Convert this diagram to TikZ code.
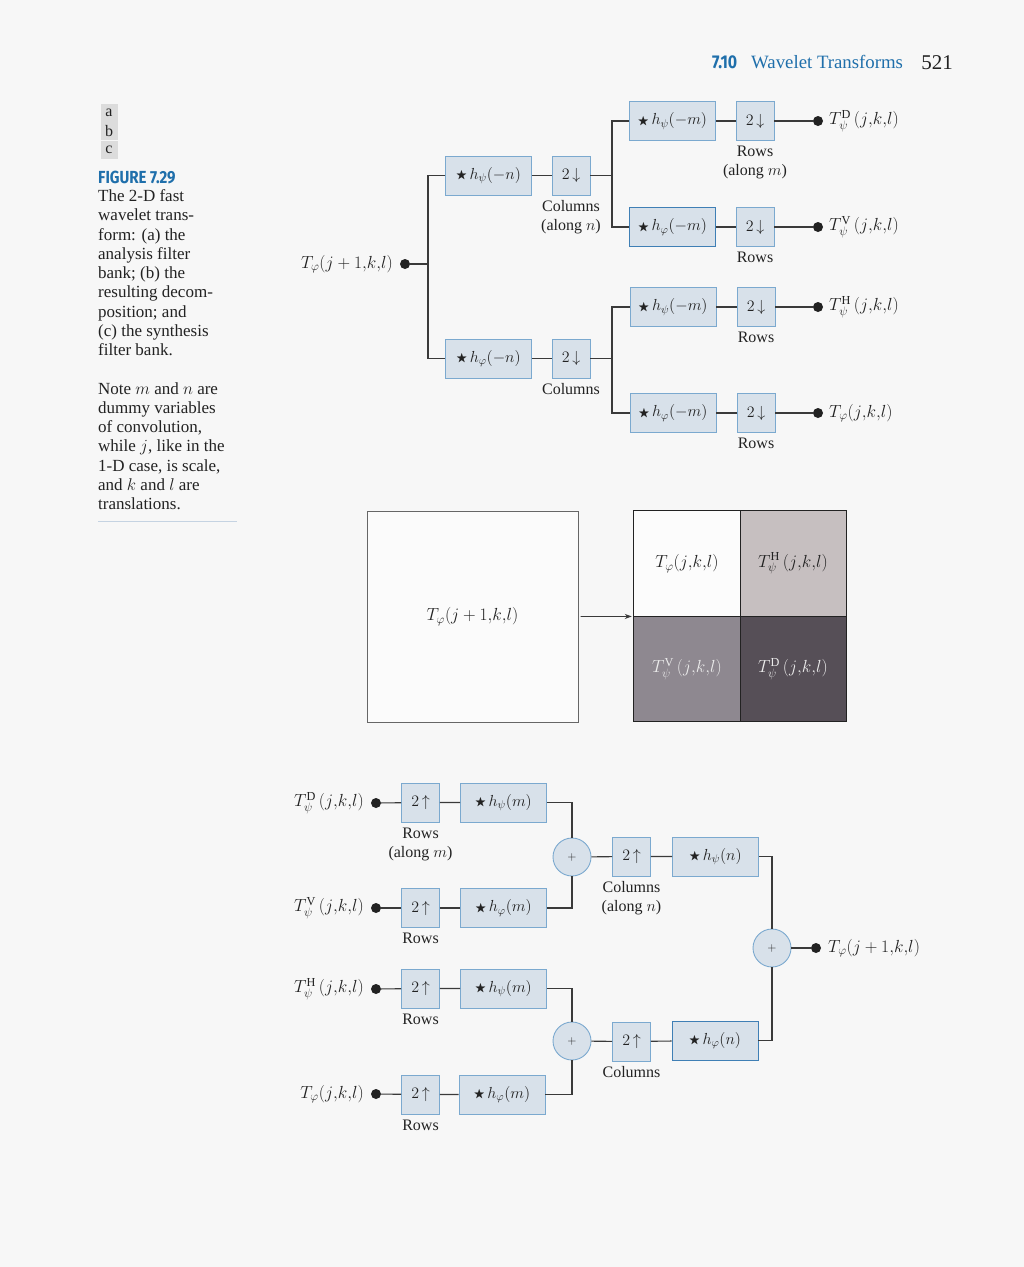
\RequirePackage{fix-cm}
\documentclass[tikz,border=0pt]{standalone}
\usepackage{amssymb}
\usepackage{fontspec}
\setmainfont{Liberation Serif}
\newfontfamily\condsans[FakeStretch=0.86]{Fira Sans}
\usetikzlibrary{arrows.meta,calc}

\definecolor{pagebg}{HTML}{F7F7F7}
\definecolor{ink}{HTML}{222222}
\definecolor{wirecol}{HTML}{3A3A3A}
\definecolor{boxfill}{HTML}{D8E1EA}
\definecolor{boxedge}{HTML}{7BA9CF}
\definecolor{boxedgedk}{HTML}{3F7FB5}
\definecolor{headblue}{HTML}{1F6FAB}
\definecolor{tagfill}{HTML}{DCDCDC}
\definecolor{rulecol}{HTML}{C5D3E2}
\definecolor{quadH}{HTML}{C6BFC0}
\definecolor{quadV}{HTML}{8E8890}
\definecolor{quadD}{HTML}{564F57}
\definecolor{sqedge}{HTML}{666666}

% filter and sampler labels
\newcommand\conv[2]{\raisebox{0.5pt}{\scalebox{0.72}{$\bigstar$}}\,$h_{#1}(#2)$}
\newcommand\down{$2\,{\downarrow}$}
\newcommand\up{$2\,{\uparrow}$}
% coefficient names
\newcommand\args{(j{,}k{,}l)}
\newcommand\coefA{$T_\varphi\args$}
\newcommand\coefB{$T_\varphi(j+1{,}k{,}l)$}
\newcommand\coefD[1]{$T_\psi^{\mathrm{#1}}\,\args$}

\begin{document}
\begin{tikzpicture}[x=1pt,y=-1pt,
  every node/.style={inner sep=0pt, text=ink},
  filt/.style={draw=boxedge, fill=boxfill, line width=0.9pt, minimum width=86pt,
    minimum height=39pt, font=\fontsize{16}{19}\selectfont},
  samp/.style={filt, minimum width=38pt},
  dotnode/.style={circle, fill=ink, minimum size=10pt},
  adder/.style={circle, draw=boxedge, fill=boxfill, line width=0.9pt,
    minimum size=38pt, font=\fontsize{12}{14}\selectfont},
  lbl/.style={font=\fontsize{16}{19}\selectfont, align=center},
  coef/.style={font=\fontsize{17.5}{20}\selectfont},
  sublbl/.style={lbl, anchor=north, yshift=-5pt},
  wire/.style={draw=wirecol, line width=1.1pt},
  tagbox/.style={fill=tagfill, minimum width=17pt, minimum height=18pt,
    font=\fontsize{16}{18}\selectfont},
  quad/.style={minimum width=106pt, minimum height=105.5pt, font=\fontsize{17.5}{20}\selectfont}
]
\useasboundingbox (0,0) rectangle (1024,1267);
\fill[pagebg] (0,0) rectangle (1024,1267);

% ---------- running head ----------
\node[anchor=base west, text=headblue] (secno) at (712,68) {\condsans\bfseries\fontsize{18.5}{20}\selectfont 7.10};
\node[anchor=base west, text=headblue] (sectitle) at (751,68) {\fontsize{18.8}{20}\selectfont Wavelet Transforms};
\node[anchor=base east] (pageno) at (953,69) {\fontsize{21}{24}\selectfont 521};

% ---------- panel tags and caption ----------
\node[tagbox] (taga) at (109,112.5) {a};
\node[tagbox] (tagb) at (109,131) {b};
\node[tagbox] (tagc) at (109,149.5) {c};
\node[anchor=base west, text=headblue] (figno) at (98,183) {\condsans\bfseries\fontsize{17.5}{20}\selectfont FIGURE 7.29};
\node[anchor=north west, align=left, font=\fontsize{17}{19.25}\selectfont] (caption) at (98,189.5) {%
The 2-D fast\\ wavelet trans-\\ form: (a) the\\ analysis filter\\ bank; (b) the\\
resulting decom-\\ position; and\\ (c) the synthesis\\ filter bank.\\[19.25pt]
Note $m$ and $n$ are\\ dummy variables\\ of convolution,\\ while $j$, like in the\\
1-D case, is scale,\\ and $k$ and $l$ are\\ translations.};
\draw[rulecol, line width=0.9pt] (98,521) -- (237,521);

% ---------- (a) analysis filter bank ----------
\node[dotnode] (ain) at (405,264) {};
\node[coef, anchor=east] (ainlbl) at (393,264) {\coefB};
\coordinate (ajoin) at (428,264);

\node[filt] (fcpsi) at (488.5,175.5) {\conv{\psi}{-n}};
\node[samp] (dcpsi) at (571,175.5) {\down};
\node[sublbl] (lcpsi) at (dcpsi.south) {Columns\\(along $n$)};
\node[filt] (fcphi) at (488.5,358.5) {\conv{\varphi}{-n}};
\node[samp] (dcphi) at (571,358.5) {\down};
\node[sublbl] (lcphi) at (dcphi.south) {Columns};
\coordinate (asplitA) at (612,175.5);
\coordinate (asplitB) at (612,358.5);

\node[filt] (frD) at (672.5,121) {\conv{\psi}{-m}};
\node[samp] (drD) at (755,121) {\down};
\node[sublbl] (lrD) at (drD.south) {Rows\\(along $m$)};
\node[dotnode] (oD) at (818,121) {};
\node[coef, anchor=west] (oDlbl) at (829,121) {\coefD{D}};

\node[filt, draw=boxedgedk] (frV) at (672.5,227) {\conv{\varphi}{-m}};
\node[samp] (drV) at (755,227) {\down};
\node[sublbl] (lrV) at (drV.south) {Rows};
\node[dotnode] (oV) at (818,227) {};
\node[coef, anchor=west] (oVlbl) at (829,227) {\coefD{V}};

\node[filt] (frH) at (673,307) {\conv{\psi}{-m}};
\node[samp] (drH) at (756,307) {\down};
\node[sublbl] (lrH) at (drH.south) {Rows};
\node[dotnode] (oH) at (818,307) {};
\node[coef, anchor=west] (oHlbl) at (829,307) {\coefD{H}};

\node[filt] (frA) at (673,413) {\conv{\varphi}{-m}};
\node[samp] (drA) at (756,413) {\down};
\node[sublbl] (lrA) at (drA.south) {Rows};
\node[dotnode] (oA) at (818,413) {};
\node[coef, anchor=west] (oAlbl) at (829,413) {\coefA};

\draw[wire] (ain) -- (ajoin);
\draw[wire] (fcpsi.west) -| (ajoin) |- (fcphi.west);
\draw[wire] (fcpsi) -- (dcpsi);
\draw[wire] (fcphi) -- (dcphi);
\draw[wire] (dcpsi.east) -- (asplitA);
\draw[wire] (dcphi.east) -- (asplitB);
\draw[wire] (frD.west) -| (asplitA) |- (frV.west);
\draw[wire] (frH.west) -| (asplitB) |- (frA.west);
\draw[wire] (frD) -- (drD) -- (oD);
\draw[wire] (frV) -- (drV) -- (oV);
\draw[wire] (frH) -- (drH) -- (oH);
\draw[wire] (frA) -- (drA) -- (oA);

% ---------- (b) resulting decomposition ----------
\node[draw=sqedge, line width=1pt, fill=pagebg!50!white, minimum size=211pt, font=\fontsize{17.5}{20}\selectfont] (srcsq) at (472.5,616.5) {\raisebox{4pt}{\coefB}};
\node[quad, fill=pagebg!40!white] (qA) at (687,563.5) {\coefA};
\node[quad, fill=quadH] (qH) at (793,563.5) {\coefD{H}};
\node[quad, fill=quadV, text=white!92!black] (qV) at (687,669) {\coefD{V}};
\node[quad, fill=quadD, text=white!92!black] (qD) at (793,669) {\coefD{D}};
\draw[ink, line width=1pt] (qA.north west) rectangle (qD.south east);
\draw[ink, line width=1pt] (qA.north east) -- (qV.south east);
\draw[ink, line width=1pt] (qA.south west) -- (qH.south east);
\draw[wire, line width=0.9pt, -{Stealth[length=7pt,width=5pt]}, shorten <=2pt, shorten >=2pt] (srcsq.east) -- (qA.south west);

% ---------- (c) synthesis filter bank ----------
\node[dotnode] (iD) at (376,803) {};
\node[coef, anchor=east] (iDlbl) at (364,803) {\coefD{D}};
\node[samp] (uD) at (420.5,802.5) {\up};
\node[sublbl] (luD) at (uD.south) {Rows\\(along $m$)};
\node[filt] (gD) at (503.5,802.5) {\conv{\psi}{m}};

\node[dotnode] (iV) at (376,908) {};
\node[coef, anchor=east] (iVlbl) at (364,908) {\coefD{V}};
\node[samp] (uV) at (420.5,908) {\up};
\node[sublbl] (luV) at (uV.south) {Rows};
\node[filt] (gV) at (503.5,908) {\conv{\varphi}{m}};

\node[dotnode] (iH) at (376,989) {};
\node[coef, anchor=east] (iHlbl) at (364,989) {\coefD{H}};
\node[samp] (uH) at (420.5,988.5) {\up};
\node[sublbl] (luH) at (uH.south) {Rows};
\node[filt] (gH) at (503.5,988.5) {\conv{\psi}{m}};

\node[dotnode] (iA) at (376,1094) {};
\node[coef, anchor=east] (iAlbl) at (364,1094) {\coefA};
\node[samp] (uA) at (420.5,1094.5) {\up};
\node[sublbl] (luA) at (uA.south) {Rows};
\node[filt] (gA) at (502,1094.5) {\conv{\varphi}{m}};

\node[adder] (sumA) at (572,857) {$+$};
\node[adder] (sumB) at (572,1041) {$+$};
\node[samp] (ucA) at (631.5,856.5) {\up};
\node[sublbl] (lucA) at (ucA.south) {Columns\\(along $n$)};
\node[filt] (gcA) at (715.5,856.5) {\conv{\psi}{n}};
\node[samp] (ucB) at (631.5,1041.5) {\up};
\node[sublbl] (lucB) at (ucB.south) {Columns};
\node[filt, draw=boxedgedk] (gcB) at (715,1040.5) {\conv{\varphi}{n}};

\node[adder] (sumC) at (772,948) {$+$};
\node[dotnode] (out) at (816,948) {};
\node[coef, anchor=west] (outlbl) at (828,948) {\coefB};

\draw[wire] (iD) -- (uD) -- (gD);
\draw[wire] (iV) -- (uV) -- (gV);
\draw[wire] (iH) -- (uH) -- (gH);
\draw[wire] (iA) -- (uA) -- (gA);
\draw[wire] (gD.east) -| (sumA.north);
\draw[wire] (gV.east) -| (sumA.south);
\draw[wire] (gH.east) -| (sumB.north);
\draw[wire] (gA.east) -| (sumB.south);
\draw[wire] (sumA) -- (ucA) -- (gcA);
\draw[wire] (sumB) -- (ucB) -- (gcB);
\draw[wire] (gcA.east) -| (sumC.north);
\draw[wire] (gcB.east) -| (sumC.south);
\draw[wire] (sumC) -- (out);
\end{tikzpicture}
\end{document}
